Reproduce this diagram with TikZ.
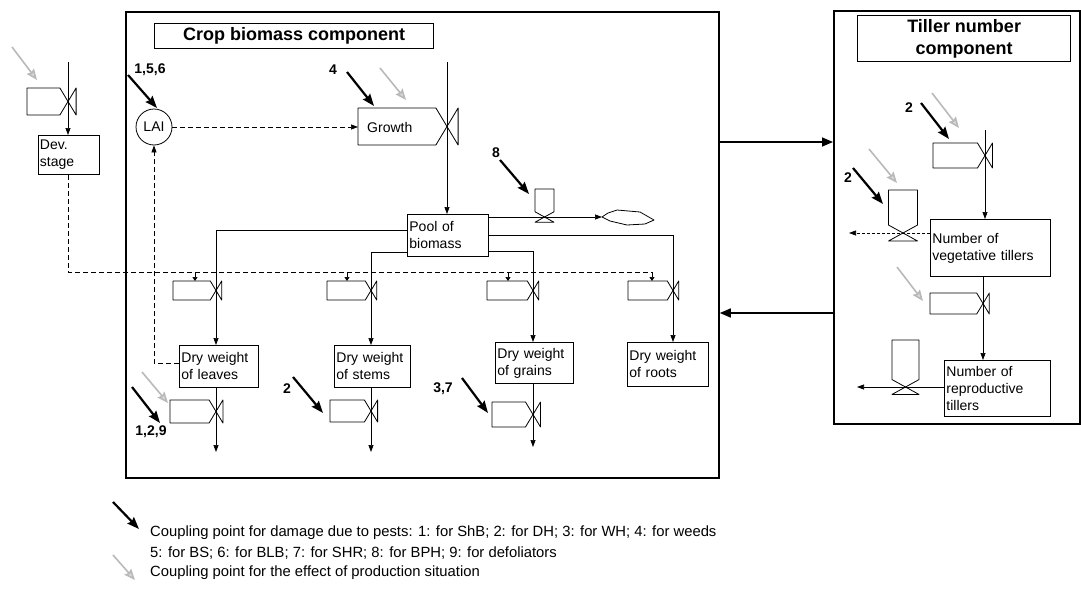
\documentclass[tikz,border=0pt]{standalone}
\usepackage{fontspec}
\setmainfont{Liberation Sans}
\usetikzlibrary{calc, positioning, arrows.meta}

% rate symbol on a vertical flow: name, left x, line x, centre y, half height
\newcommand\hvalve[5]{%
  \coordinate (#1) at (#3,#4);
  \draw[valve] (#2,#4-#5) -- (#3-0.6*#5,#4-#5) -- (#3,#4) -- (#3-0.6*#5,#4+#5) -- (#2,#4+#5) -- cycle;
  \draw[valve] (#3,#4) -- (#3+0.6*#5,#4-#5) -- (#3+0.6*#5,#4+#5) -- cycle;
}
% rate symbol on a horizontal flow: name, centre x, top y, line y, half width
\newcommand\vvalve[5]{%
  \coordinate (#1) at (#2,#4);
  \draw[valve] (#2-#5,#4-0.55*#5) -- (#2-#5,#3) -- (#2+#5,#3) -- (#2+#5,#4-0.55*#5) -- (#2,#4) -- cycle;
  \draw[valve] (#2,#4) -- (#2-#5,#4+0.55*#5) -- (#2+#5,#4+0.55*#5) -- cycle;
}

\begin{document}
\begin{tikzpicture}[x=1pt, y=-1pt,
        compbox/.style={draw, line width=1.8pt, anchor=north west, inner sep=0pt},
        headbox/.style={draw, line width=1.3pt, anchor=north west, font=\fontsize{18}{22}\selectfont\bfseries, align=center, inner sep=0pt},
        stock/.style={draw, line width=0.8pt, anchor=north west, font=\fontsize{14}{17}\selectfont, align=left, inner xsep=2pt, inner ysep=1pt},
        valve/.style={draw, line width=0.8pt, line join=round},
        flowline/.style={draw, line width=0.7pt, -{Triangle[length=7pt,width=5pt]}},
        infoline/.style={draw, line width=0.7pt, dash pattern=on 5pt off 3pt},
        ctltip/.style={draw, line width=0.7pt, -{Triangle[length=4pt,width=5pt]}},
        couple/.style={draw, line width=1.5pt, -{Triangle[length=11pt,width=9pt]}},
        pest/.style={line width=2.2pt, -{Stealth[length=12pt,width=9pt,inset=1.5pt]}},
        prod/.style={line width=1.6pt, gray!55, -{Stealth[length=11pt,width=9pt,inset=1.5pt,fill=gray!30]}},
        pestno/.style={font=\fontsize{14}{16}\selectfont\bfseries, inner sep=0pt},
        legendtext/.style={font=\fontsize{14.8}{19}\selectfont, anchor=west, inner sep=0pt}
    ]
    \useasboundingbox (0,0) rectangle (1081,605);

    % ==================== Frames ====================
    \node[compbox, minimum width=593pt, minimum height=466pt] (cropbox) at (125,11) {};
    \node[compbox, minimum width=246pt, minimum height=413pt] (tillbox) at (833,10) {};
    \node[headbox, minimum width=279pt, minimum height=25pt] (croptitle) at (154,23) {Crop biomass component};
    \node[headbox, minimum width=213pt, minimum height=46pt] (tilltitle) at (857,15) {Tiller number\\component};

    \draw[couple] ($(cropbox.north east)+(0,131)$) -- ($(tillbox.north west)+(0,132)$);
    \draw[couple] ($(tillbox.north west)+(0,303)$) -- ($(cropbox.north east)+(0,302)$);

    % ==================== Development stage ====================
    \node[stock, text width=57pt, minimum height=39pt] (dev) at (37.5,135) {Dev.\\stage};
    \hvalve{vdev}{27}{68}{101.5}{13.5}
    \coordinate (devin) at (68,62);
    \draw[flowline] (devin) -- (dev.north -| devin);

    % ==================== Crop biomass ====================
    \node[draw, circle, line width=0.8pt, minimum size=36pt, inner sep=0pt, font=\fontsize{14}{17}\selectfont] (lai) at (154,127) {LAI};
    \hvalve{vgrowth}{358}{447}{126.5}{18.5}
    \node[font=\fontsize{14}{17}\selectfont, anchor=west, inner xsep=9pt, inner ysep=0pt] (growth) at (358,127) {Growth};
    \coordinate (growthin) at (447,62);

    \node[stock, text width=77pt, minimum height=42pt] (pool) at (407,214) {Pool of\\biomass};
    \node[stock, text width=75pt, minimum height=42pt] (leaves) at (179,345) {Dry weight\\of leaves};
    \node[stock, text width=72pt, minimum height=42pt] (stems) at (334,345) {Dry weight\\of stems};
    \node[stock, text width=74pt, minimum height=41pt] (grains) at (495,342) {Dry weight\\of grains};
    \node[stock, text width=77pt, minimum height=44pt] (roots) at (627,342) {Dry weight\\of roots};

    % Allocation valves
    \hvalve{vleavestop}{173}{216}{290.5}{9.5}
    \hvalve{vstemstop}{327}{371}{290.5}{9.5}
    \hvalve{vgrainstop}{487}{533}{290.5}{9.5}
    \hvalve{vrootstop}{628}{673}{290.5}{9.5}

    % Loss valves
    \hvalve{vleavesbot}{170}{216}{411.5}{11.5}
    \hvalve{vstemsbot}{330}{371}{411}{11}
    \hvalve{vgrainsbot}{492}{533}{414.5}{12.5}
    \vvalve{vpoolout}{544.5}{189}{217}{9.5}

    % Sink
    \coordinate (sink) at (602,217);
    \draw[valve] (sink) -- (608,213) -- (617,210) -- (640,212) -- (654,220) -- (645,224) -- (627,225) -- (610,221) -- cycle;

    % Flows
    \draw[flowline] (growthin) -- (pool.north -| growthin);
    \draw[flowline] (pool.east |- sink) -- (sink);
    \coordinate (bleaves) at ($(pool.north west)+(0,16)$);
    \coordinate (bstems) at ($(pool.north west)+(0,38)$);
    \coordinate (bgrains) at ($(pool.north east)+(0,37)$);
    \coordinate (broots) at ($(pool.north east)+(0,21)$);
    \draw[flowline] (bleaves) -| (leaves.north -| vleavestop);
    \draw[flowline] (bstems) -| (stems.north -| vstemstop);
    \draw[flowline] (bgrains) -| (grains.north -| vgrainstop);
    \draw[flowline] (broots) -| (roots.north -| vrootstop);

    \coordinate (outleaves) at (216,452);
    \coordinate (outstems) at (371,452);
    \coordinate (outgrains) at (533,447);
    \draw[flowline] (leaves.south -| outleaves) -- (outleaves);
    \draw[flowline] (stems.south -| outstems) -- (outstems);
    \draw[flowline] (grains.south -| outgrains) -- (outgrains);

    % Information links
    \draw[infoline, -{Triangle[length=7pt,width=5pt]}] (lai) -- (growth);
    \draw[infoline, -{Triangle[length=7pt,width=5pt]}] ($(leaves.west)+(0,-3)$) -| (lai.south);
    \coordinate (busend) at (653,272);
    \draw[infoline] (dev.south) |- (busend);
    \foreach \tx in {195,347,508,652}
        \draw[ctltip] (\tx,272) -- (\tx,281);

    % ==================== Tiller number ====================
    \node[stock, text width=116pt, minimum height=57pt] (vegtill) at (930,219) {Number of\\vegetative tillers};
    \node[stock, text width=102pt, minimum height=56pt] (reptill) at (944,360) {Number of\\reproductive\\tillers};
    \hvalve{vtilltop}{933}{985}{155.5}{12.5}
    \hvalve{vtillmid}{930}{983}{303.5}{10.5}
    \vvalve{vvegout}{903}{190}{233}{14.5}
    \vvalve{vrepout}{905.5}{340}{387}{13.5}

    \coordinate (tillin) at (985,130);
    \coordinate (vegout) at (849,233);
    \coordinate (repout) at (857,387);
    \draw[flowline] (tillin) -- (vegtill.north -| tillin);
    \draw[flowline] (vegtill.south -| vtillmid) -- (reptill.north -| vtillmid);
    \draw[flowline, dash pattern=on 3pt off 2pt] (vegtill.west |- vegout) -- (vegout);
    \draw[flowline] (reptill.west |- repout) -- (repout);

    % ==================== Coupling points ====================
    \foreach \sx/\sy/\ex/\ey in {128/75/157/108, 347/72/374/106, 500/160/529/194, 132/387/160/423,
                                 293/377/323/413, 462/378/488/413, 921/103/949/139, 853/168/883/204}
        \draw[pest] (\sx,\sy) -- (\ex,\ey);
    \foreach \sx/\sy/\ex/\ey in {12/47/37/80, 380/68/406/100, 142/372/168/403,
                                 932/93/959/128, 869/149/897/183, 897/267/923/301}
        \draw[prod] (\sx,\sy) -- (\ex,\ey);

    \node[pestno] (p156) at (150,70) {1,5,6};
    \node[pestno] (p4) at (333,70) {4};
    \node[pestno] (p8) at (496,153) {8};
    \node[pestno] (p129) at (151,432) {1,2,9};
    \node[pestno] (p2stems) at (287,389) {2};
    \node[pestno] (p37) at (443,389) {3,7};
    \node[pestno] (p2tilla) at (909,108) {2};
    \node[pestno] (p2tillb) at (848,178) {2};

    % ==================== Legend ====================
    \draw[pest] (113,502) -- (139,529);
    \node[legendtext] (leg1) at (150,533) {Coupling point for damage due to pests: 1: for ShB; 2: for DH; 3: for WH; 4: for weeds};
    \node[legendtext] (leg2) at (150,553) {5: for BS; 6: for BLB; 7: for SHR; 8: for BPH; 9: for defoliators};
    \draw[prod] (113,555) -- (135,580);
    \node[legendtext] (leg3) at (150,573) {Coupling point for the effect of production situation};

\end{tikzpicture}
\end{document}
